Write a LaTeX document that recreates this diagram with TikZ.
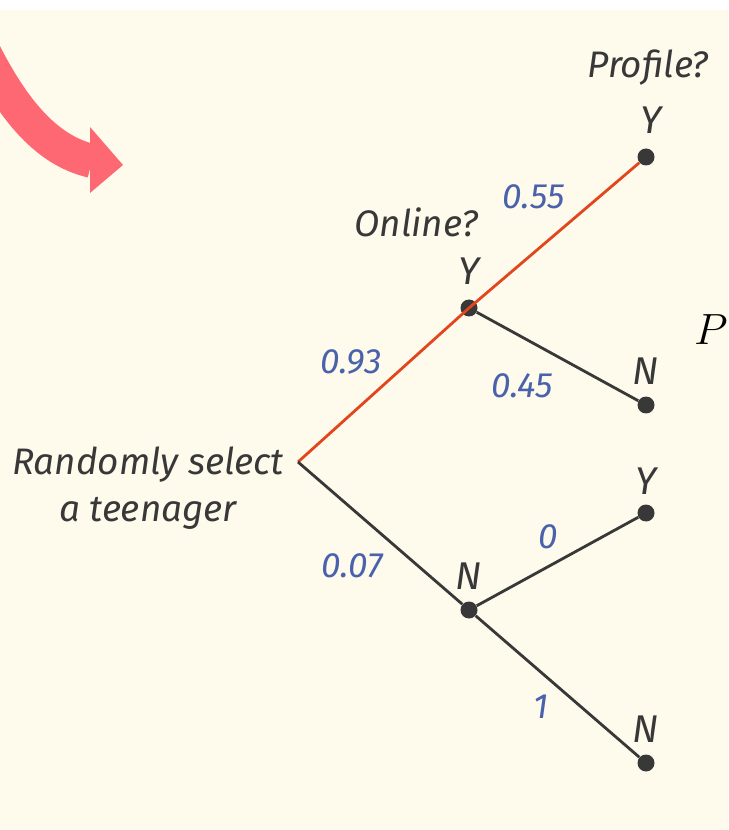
\documentclass[tikz,border=0pt]{standalone}
\usepackage{fontspec}
\setsansfont{Fira Sans}
\usetikzlibrary{positioning}
\definecolor{paper}{HTML}{FEFBEC}
\definecolor{ink}{HTML}{383838}
\definecolor{hotred}{HTML}{E2461E}
\definecolor{probblue}{HTML}{4A62AC}
\definecolor{pinkarrow}{HTML}{FE6873}

\begin{document}
\begin{tikzpicture}[
  x=0.02cm, y=-0.02cm,
  dot/.style={circle, fill=ink, inner sep=0pt, minimum size=0.34cm},
  yn/.style={font=\sffamily\itshape\fontsize{22}{24}\selectfont, text=ink, inner sep=0pt},
  head/.style={font=\sffamily\itshape\fontsize{21}{27}\selectfont, text=ink, inner sep=0pt, align=center},
  prob/.style={font=\sffamily\itshape\fontsize{20}{22}\selectfont, text=probblue, inner sep=0pt},
  branch/.style={line width=1.6pt, draw=ink},
  hot/.style={line width=1.6pt, draw=hotred}
]
  \useasboundingbox (0,0) rectangle (728,830);
  \fill[white] (0,0) rectangle (728,830);
  \fill[paper] (0,10) rectangle (728,830);

  % pink arrow in the corner
  \begin{scope}
    \clip (0,10) rectangle (728,830);
    \draw[pinkarrow, line width=0.68cm] (-25,34) .. controls (10,108) and (45,150) .. (92,161);
    \fill[pinkarrow] (90,127) -- (123,165) -- (90,193) -- cycle;
  \end{scope}

  \coordinate (root) at (298,462);
  \node[dot] (ony) at (469,308) {};
  \node[dot] (onn) at (469,610) {};
  \node[dot] (yy) at (646,157) {};
  \node[dot] (yn) at (646,405) {};
  \node[dot] (ny) at (646,513) {};
  \node[dot] (nn) at (646,763) {};

  \draw[hot] (root) -- (ony.center);
  \draw[hot] (ony.center) -- (yy);
  \draw[branch] (root) -- (onn);
  \draw[branch] (ony) -- (yn);
  \draw[branch] (onn) -- (ny);
  \draw[branch] (onn) -- (nn);

  \node[yn, above=0.28cm of ony] (lony) {Y};
  \node[yn, above=0.22cm of onn] (lonn) {N};
  \node[yn, above=0.28cm of yy, xshift=0.1cm] (lyy) {Y};
  \node[yn, above=0.22cm of yn] (lyn) {N};
  \node[yn, above=0.18cm of ny] (lny) {Y};
  \node[yn, above=0.22cm of nn] (lnn) {N};

  \node[head] (online) at (416,222) {Online?};
  \node[head] (profile) at (648,68) {Profile?};
  \node[head] (start) at (148,488) {Randomly select\\a teenager};

  \node[prob] at (351,362) {0.93};
  \node[prob] at (352,566) {0.07};
  \node[prob] at (534,197) {0.55};
  \node[prob] at (522,386) {0.45};
  \node[prob] at (548,537) {0};
  \node[prob] at (541,707) {1};

  \node[anchor=east, inner sep=0pt, font=\fontsize{23}{25}\selectfont] (pcut) at (728,330) {$P$};
\end{tikzpicture}
\end{document}
